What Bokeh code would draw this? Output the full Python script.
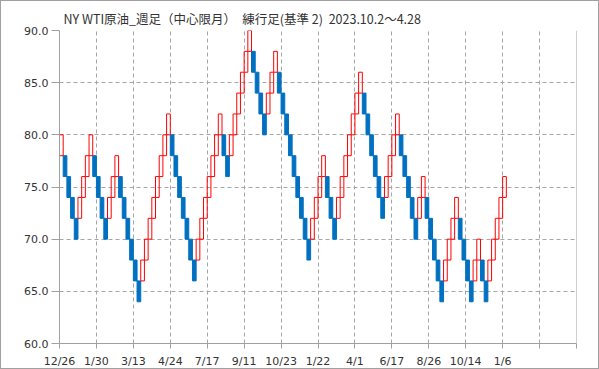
from bokeh.plotting import figure
from bokeh.models import ColumnDataSource, FixedTicker, Span
from bokeh.embed import file_html
from bokeh.resources import INLINE

title_text = "NY WTI原油_週足（中心限月）\u3000練行足(基準 2)\u00a0\u00a02023.10.2～4.28"
box_size = 2
# lower edge of each renko brick, in order
brick_low = [78, 76, 74, 72, 70, 72, 74, 76, 78, 76,
             74, 72, 70, 72, 74, 76, 74, 72, 70, 68,
             66, 64, 66, 68, 70, 72, 74, 76, 78, 80,
             78, 76, 74, 72, 70, 68, 66, 68, 70, 72,
             74, 76, 78, 80, 78, 76, 78, 80, 82, 84,
             86, 88, 86, 84, 82, 80, 82, 84, 86, 84,
             82, 80, 78, 76, 74, 72, 70, 68, 70, 72,
             74, 76, 74, 72, 70, 72, 74, 76, 78, 80,
             82, 84, 82, 80, 78, 76, 74, 72, 74, 76,
             78, 80, 78, 76, 74, 72, 70, 72, 74, 72,
             70, 68, 66, 64, 66, 68, 70, 72, 70, 68,
             66, 64, 66, 68, 66, 64, 66, 68, 70, 72,
             74]
# 1 = up brick (red), 0 = down brick (blue)
brick_up = [1, 0, 0, 0, 0, 1, 1, 1, 1, 0,
            0, 0, 0, 1, 1, 1, 0, 0, 0, 0,
            0, 0, 1, 1, 1, 1, 1, 1, 1, 1,
            0, 0, 0, 0, 0, 0, 0, 1, 1, 1,
            1, 1, 1, 1, 0, 0, 1, 1, 1, 1,
            1, 1, 0, 0, 0, 0, 1, 1, 1, 0,
            0, 0, 0, 0, 0, 0, 0, 0, 1, 1,
            1, 1, 0, 0, 0, 1, 1, 1, 1, 1,
            1, 1, 0, 0, 0, 0, 0, 0, 1, 1,
            1, 1, 0, 0, 0, 0, 0, 1, 1, 0,
            0, 0, 0, 0, 1, 1, 1, 1, 0, 0,
            0, 0, 1, 1, 0, 0, 1, 1, 1, 1,
            1]
slot_count = 140
x_tick_step = 10
x_tick_labels = ["12/26", "1/30", "3/13", "4/24", "7/17", "9/11", "10/23",
                 "1/22", "4/1", "6/17", "8/26", "10/14", "1/6", "", ""]
y_ticks = [60, 65, 70, 75, 80, 85, 90]

up_src = {"l": [], "r": [], "b": [], "t": []}
dn_src = {"l": [], "r": [], "b": [], "t": []}
for i, (lo, up) in enumerate(zip(brick_low, brick_up)):
    d = up_src if up else dn_src
    d["l"].append(i)
    d["r"].append(i + 1)
    d["b"].append(lo)
    d["t"].append(lo + box_size)

p = figure(width=599, height=369, x_range=(0, slot_count), y_range=(60, 90),
           output_backend="svg", toolbar_location=None,
           min_border_left=58, min_border_right=24, min_border_top=29, min_border_bottom=27)
p.background_fill_color = "white"
p.border_fill_color = "white"
p.outline_line_color = None
p.styles = {"border": "1px solid #a0a0a0", "box-sizing": "border-box"}

p.title.text = title_text
p.title.text_font = "Noto Sans CJK JP"
p.title.text_font_size = "12.5px"
p.title.text_font_style = "normal"
p.title.text_color = "#333333"
p.title.align = "left"
p.title.offset = 4
p.title.standoff = 6

p.quad(left="l", right="r", bottom="b", top="t", source=ColumnDataSource(dn_src),
       fill_color="#0070C0", line_color="#0070C0", line_width=1)
p.quad(left="l", right="r", bottom="b", top="t", source=ColumnDataSource(up_src),
       fill_color=None, line_color="#FF0000", line_width=1)

xt = list(range(0, slot_count + 1, x_tick_step))
p.xaxis.ticker = FixedTicker(ticks=xt)
p.xaxis.major_label_overrides = {t: lab for t, lab in zip(xt, x_tick_labels)}
p.yaxis.ticker = FixedTicker(ticks=y_ticks)
p.yaxis.major_label_overrides = {v: f"{v:.1f}" for v in y_ticks}

for ax in (p.xaxis[0], p.yaxis[0]):
    ax.axis_line_color = "#a0a0a0"
    ax.major_tick_line_color = "#a0a0a0"
    ax.minor_tick_line_color = None
    ax.major_tick_in = 0
    ax.major_label_text_font = "DejaVu Sans"
    ax.major_label_text_font_size = "11px"
    ax.major_label_text_color = "#333333"
p.xaxis.major_tick_out = 5
p.xaxis.major_label_standoff = 6
p.yaxis.major_tick_out = 8
p.yaxis.major_label_standoff = 3

p.xgrid.ticker = FixedTicker(ticks=xt)
p.ygrid.ticker = FixedTicker(ticks=y_ticks)
for g in (p.xgrid[0], p.ygrid[0]):
    g.grid_line_color = "#a6a6a6"
    g.grid_line_dash = "4 3"
    g.grid_line_width = 1

p.add_layout(Span(location=slot_count, dimension="height", line_color="#a0a0a0", line_width=1))

open("out.html", "w").write(file_html(p, INLINE))
